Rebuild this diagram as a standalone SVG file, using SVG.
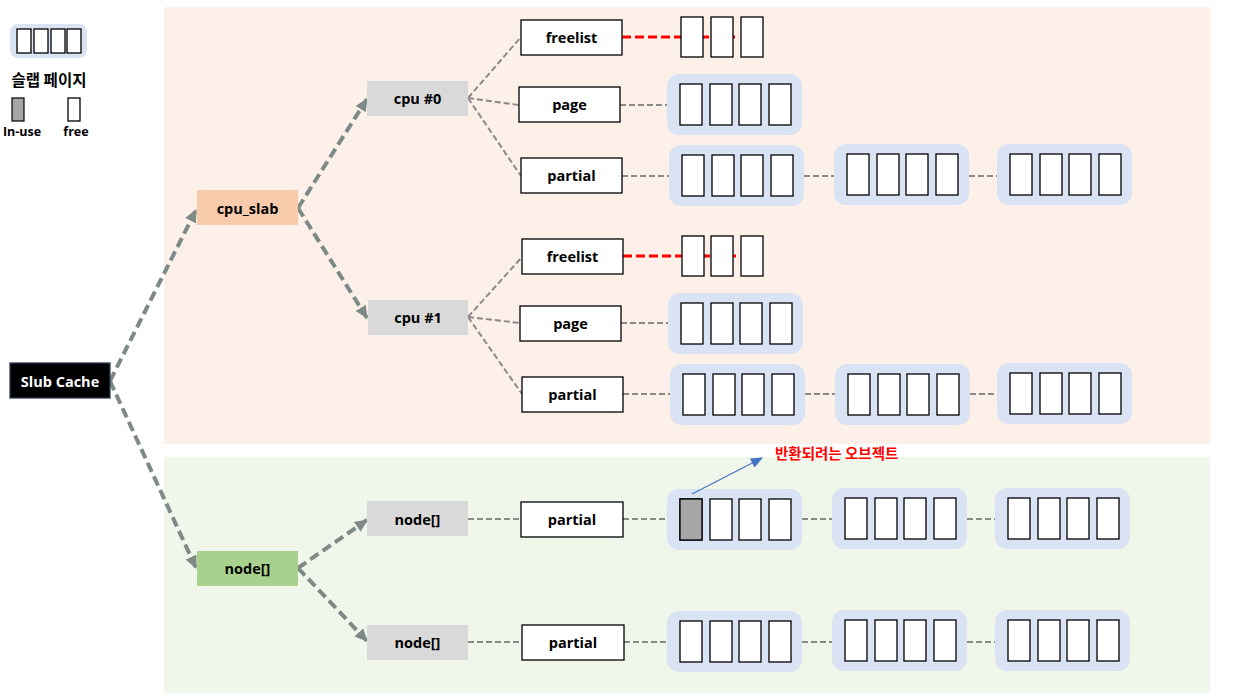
<svg xmlns="http://www.w3.org/2000/svg" xmlns:xlink="http://www.w3.org/1999/xlink" width="1234" height="697" viewBox="0 0 1234 697">
<style>
.lbl{font-family:"Open Sans","Noto Sans CJK KR",sans-serif;font-weight:bold;font-size:14.5px;fill:#000;text-anchor:middle;dominant-baseline:central}
.kr{font-family:"Noto Sans CJK KR",sans-serif;font-weight:bold}
.box{fill:#fff;stroke:#000;stroke-width:1.3}
.obj{fill:#fff;stroke:#000;stroke-width:1.3}
.pillbg{fill:#DAE3F3}
.thick{fill:none;stroke:#7D8A87;stroke-width:4;stroke-dasharray:10 5}
.thin{fill:none;stroke:#8A8A8A;stroke-width:2;stroke-dasharray:6 3}
.red{fill:none;stroke:#FF0000;stroke-width:3;stroke-dasharray:9 4}
</style>
<defs>
<marker id="ah" markerUnits="userSpaceOnUse" markerWidth="14" markerHeight="14" viewBox="0 0 14 14" refX="12" refY="7" orient="auto">
<path d="M0,1 L13,7 L0,13 z" fill="#7D8A87"/>
</marker>
<marker id="bh" markerUnits="userSpaceOnUse" markerWidth="12" markerHeight="12" viewBox="0 0 12 12" refX="11" refY="6" orient="auto">
<path d="M0,1 L12,6 L0,11 z" fill="#4472C4"/>
</marker>
<g id="pill">
<rect class="pillbg" x="0" y="0" width="135" height="61" rx="12"/>
<rect class="obj" x="13" y="10" width="22" height="41"/>
<rect class="obj" x="43" y="10" width="22" height="41"/>
<rect class="obj" x="72" y="10" width="22" height="41"/>
<rect class="obj" x="102" y="10" width="22" height="41"/>
</g>
</defs>
<rect width="1234" height="697" fill="#fff"/>
<rect x="164" y="7" width="1046" height="437" fill="#FDF0E8"/>
<rect x="164" y="457" width="1046" height="236" fill="#F0F6EA"/>

<g id="legend">
<rect class="pillbg" x="10" y="24" width="77" height="34" rx="8"/>
<rect class="obj" x="17" y="29" width="14" height="24"/>
<rect class="obj" x="34" y="29" width="14" height="24"/>
<rect class="obj" x="51" y="29" width="14" height="24"/>
<rect class="obj" x="67" y="29" width="14" height="24"/>
<text class="lbl kr" x="49" y="79" style="font-size:15.5px">슬랩 페이지</text>
<rect x="12" y="98" width="12" height="23" fill="#A6A6A6" stroke="#000" stroke-width="1.2"/>
<rect class="obj" x="68" y="98" width="12" height="23"/>
<text class="lbl" x="22" y="131" style="font-size:12.5px">In-use</text>
<text class="lbl" x="76" y="131" style="font-size:12.5px">free</text>
</g>

<g id="connectors">
<line class="thick" x1="110" y1="381" x2="196" y2="210" marker-end="url(#ah)"/>
<line class="thick" x1="110" y1="381" x2="196" y2="568" marker-end="url(#ah)"/>
<line class="thick" x1="298" y1="208" x2="367" y2="99" marker-end="url(#ah)"/>
<line class="thick" x1="298" y1="208" x2="367" y2="318" marker-end="url(#ah)"/>
<line class="thick" x1="298" y1="568" x2="367" y2="520" marker-end="url(#ah)"/>
<line class="thick" x1="298" y1="568" x2="367" y2="641" marker-end="url(#ah)"/>

<line class="thin" x1="468" y1="98" x2="521" y2="37"/>
<line class="thin" x1="468" y1="98" x2="519" y2="105"/>
<line class="thin" x1="468" y1="98" x2="521" y2="176"/>
<line class="thin" x1="620" y1="105" x2="667" y2="105"/>
<line class="thin" x1="622" y1="176" x2="669" y2="176"/>
<line class="thin" x1="804" y1="176" x2="834" y2="176"/>
<line class="thin" x1="969" y1="176" x2="997" y2="176"/>

<line class="thin" x1="468" y1="317" x2="522" y2="257"/>
<line class="thin" x1="468" y1="317" x2="520" y2="323"/>
<line class="thin" x1="468" y1="317" x2="522" y2="394"/>
<line class="thin" x1="621" y1="323" x2="668" y2="323"/>
<line class="thin" x1="623" y1="394" x2="670" y2="394"/>
<line class="thin" x1="805" y1="394" x2="835" y2="394"/>
<line class="thin" x1="970" y1="394" x2="997" y2="394"/>

<line class="thin" x1="468" y1="519" x2="521" y2="519"/>
<line class="thin" x1="623" y1="519" x2="667" y2="519"/>
<line class="thin" x1="802" y1="519" x2="832" y2="519"/>
<line class="thin" x1="967" y1="519" x2="995" y2="519"/>

<line class="thin" x1="468" y1="642" x2="522" y2="642"/>
<line class="thin" x1="624" y1="642" x2="667" y2="642"/>
<line class="thin" x1="802" y1="642" x2="832" y2="642"/>
<line class="thin" x1="967" y1="642" x2="995" y2="642"/>

<line class="red" x1="622" y1="37" x2="738" y2="37"/>
<line class="red" x1="623" y1="256" x2="738" y2="256"/>
</g>

<g id="slub-cache">
<rect x="10" y="363" width="100" height="35" fill="#000" stroke="#2F3B55" stroke-width="1.3"/>
<text class="lbl" x="60" y="381" style="fill:#fff">Slub Cache</text>
</g>
<g id="cpu-slab">
<rect x="197" y="190" width="101" height="35" fill="#F8CBAD"/>
<text class="lbl" x="247.5" y="208">cpu_slab</text>
</g>
<g id="node-main">
<rect x="197" y="551" width="101" height="35" fill="#A9D18E"/>
<text class="lbl" x="247.5" y="568">node[]</text>
</g>
<g id="cpu0">
<rect x="367" y="81" width="101" height="35" fill="#D9D9D9"/>
<text class="lbl" x="417.5" y="98">cpu #0</text>
</g>
<g id="cpu1">
<rect x="368" y="300" width="100" height="35" fill="#D9D9D9"/>
<text class="lbl" x="418" y="317">cpu #1</text>
</g>
<g id="node0">
<rect x="367" y="501" width="101" height="35" fill="#D9D9D9"/>
<text class="lbl" x="417.5" y="519">node[]</text>
</g>
<g id="node1">
<rect x="367" y="625" width="101" height="35" fill="#D9D9D9"/>
<text class="lbl" x="417.5" y="642">node[]</text>
</g>

<g id="cpu0-freelist">
<rect class="box" x="521" y="20" width="101" height="35"/>
<text class="lbl" x="571.5" y="37.5">freelist</text>
</g>
<g id="cpu0-page">
<rect class="box" x="519" y="87" width="101" height="35"/>
<text class="lbl" x="569.5" y="104.5">page</text>
</g>
<g id="cpu0-partial">
<rect class="box" x="521" y="158" width="101" height="35"/>
<text class="lbl" x="571.5" y="175.5">partial</text>
</g>
<g id="cpu1-freelist">
<rect class="box" x="522" y="239" width="101" height="35"/>
<text class="lbl" x="572.5" y="256.5">freelist</text>
</g>
<g id="cpu1-page">
<rect class="box" x="520" y="306" width="101" height="35"/>
<text class="lbl" x="570.5" y="323.5">page</text>
</g>
<g id="cpu1-partial">
<rect class="box" x="522" y="377" width="101" height="35"/>
<text class="lbl" x="572.5" y="394.5">partial</text>
</g>
<g id="node0-partial">
<rect class="box" x="521" y="502" width="102" height="35"/>
<text class="lbl" x="572" y="519.5">partial</text>
</g>
<g id="node1-partial">
<rect class="box" x="522" y="625" width="102" height="35"/>
<text class="lbl" x="573" y="642.5">partial</text>
</g>

<g id="cpu0-freeobjs">
<rect class="obj" x="681" y="17" width="22" height="40"/>
<rect class="obj" x="711" y="17" width="22" height="40"/>
<rect class="obj" x="741" y="17" width="22" height="40"/>
</g>
<g id="cpu1-freeobjs">
<rect class="obj" x="682" y="236" width="22" height="40"/>
<rect class="obj" x="711" y="236" width="22" height="40"/>
<rect class="obj" x="741" y="236" width="22" height="40"/>
</g>

<g id="cpu0-slabs">
<use xlink:href="#pill" x="667" y="74"/>
<use xlink:href="#pill" x="669" y="145"/>
<use xlink:href="#pill" x="834" y="144"/>
<use xlink:href="#pill" x="997" y="144"/>
</g>
<g id="cpu1-slabs">
<use xlink:href="#pill" x="668" y="293"/>
<use xlink:href="#pill" x="670" y="364"/>
<use xlink:href="#pill" x="835" y="364"/>
<use xlink:href="#pill" x="997" y="363"/>
</g>
<g id="node0-slabs">
<use xlink:href="#pill" x="667" y="489"/>
<rect x="680" y="499" width="22" height="41" fill="#A6A6A6" stroke="#000" stroke-width="1.3"/>
<use xlink:href="#pill" x="832" y="488"/>
<use xlink:href="#pill" x="995" y="488"/>
</g>
<g id="node1-slabs">
<use xlink:href="#pill" x="667" y="611"/>
<use xlink:href="#pill" x="832" y="610"/>
<use xlink:href="#pill" x="995" y="610"/>
</g>

<g id="annotation">
<line x1="692" y1="494" x2="762" y2="458" stroke="#4472C4" stroke-width="1.2" marker-end="url(#bh)"/>
<text class="kr" x="775" y="459" font-size="14.5" fill="#FF0000">반환되려는 오브젝트</text>
</g>
</svg>
